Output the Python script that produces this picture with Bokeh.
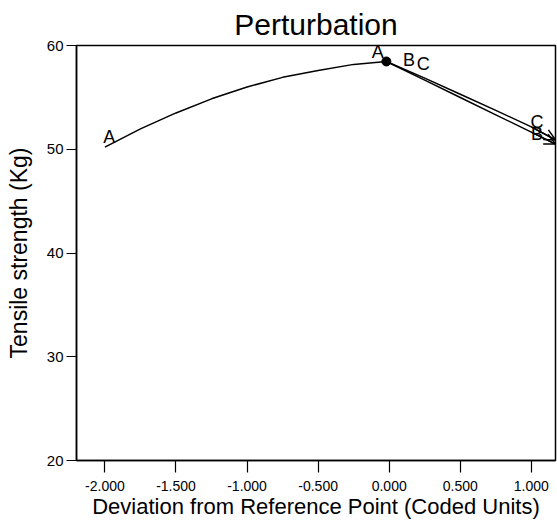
from bokeh.plotting import figure
from bokeh.models import Range1d, FixedTicker, NumeralTickFormatter, Arrow, OpenHead, ColumnDataSource
from bokeh.core.properties import value
from bokeh.embed import file_html
from bokeh.resources import INLINE

# Perturbation traces (coded deviation vs tensile strength)
A_x = [-2.0, -1.75, -1.5, -1.25, -1.0, -0.75, -0.5, -0.25, -0.02]
A_y = [50.2, 51.96, 53.5, 54.86, 56.0, 56.93, 57.6, 58.18, 58.46]
B_x = [-0.02, 0.25, 0.5, 0.75, 1.0, 1.17]
B_y = [58.46, 56.66, 54.99, 53.32, 51.65, 50.5]
C_x = [-0.02, 0.25, 0.5, 0.75, 1.0, 1.17]
C_y = [58.46, 56.85, 55.3, 53.75, 52.15, 50.9]
ref_x = [-0.02]
ref_y = [58.46]

label_text = ["A", "A", "B", "C", "C", "B"]
label_x = [-1.97, -0.08, 0.14, 0.24, 1.04, 1.04]
label_y = [51.15, 59.4, 58.6, 58.25, 52.6, 51.45]

x_ticks = [-2.0, -1.5, -1.0, -0.5, 0.0, 0.5, 1.0]
y_ticks = [20, 30, 40, 50, 60]

FONT = "Liberation Sans"

p = figure(width=557, height=521, output_backend="svg", toolbar_location=None,
           x_range=Range1d(-2.2, 1.17), y_range=Range1d(20, 60),
           min_border_left=76, min_border_right=2, min_border_top=44, min_border_bottom=61,
           title="Perturbation")
p.title.text_font = FONT
p.title.text_font_size = "30px"
p.title.text_font_style = "normal"
p.title.align = "center"
p.title.text_color = "black"

p.grid.visible = False
p.outline_line_color = "black"
p.outline_line_width = 1.5

for ax in (p.xaxis[0], p.yaxis[0]):
    ax.axis_line_color = "black"
    ax.axis_line_width = 1.5
    ax.major_tick_line_color = "black"
    ax.major_tick_line_width = 1.2
    ax.major_tick_in = 0
    ax.minor_tick_line_color = None
    ax.major_label_text_font = FONT
    ax.major_label_text_color = "black"
    ax.axis_label_text_font = FONT
    ax.axis_label_text_font_style = "normal"
    ax.axis_label_text_color = "black"

p.xaxis.ticker = FixedTicker(ticks=x_ticks)
p.xaxis.formatter = NumeralTickFormatter(format="0.000")
p.xaxis.major_tick_out = 12
p.xaxis.major_label_standoff = 8
p.xaxis.major_label_text_font_size = "14px"
p.xaxis.major_label_text_line_height = 1.0
p.xaxis.axis_label = "Deviation from Reference Point (Coded Units)"
p.xaxis.axis_label_text_font_size = "22px"
p.xaxis.axis_label_text_line_height = 1.0
p.xaxis.axis_label_standoff = 0

p.yaxis.ticker = FixedTicker(ticks=y_ticks)
p.yaxis.major_tick_out = 10
p.yaxis.major_label_standoff = 3
p.yaxis.major_label_text_font_size = "15px"
p.yaxis.axis_label = "Tensile strength (Kg)"
p.yaxis.axis_label_text_font_size = "23px"
p.yaxis.axis_label_standoff = 12

p.line(A_x, A_y, line_color="black", line_width=1.5)
p.line(B_x, B_y, line_color="black", line_width=1.5)
p.line(C_x, C_y, line_color="black", line_width=1.5)
p.scatter(ref_x, ref_y, size=9, color="black")

for xs, ys in ((B_x, B_y), (C_x, C_y)):
    p.add_layout(Arrow(end=OpenHead(size=11, line_width=1.5, line_color="black"),
                       x_start=xs[-2], y_start=ys[-2], x_end=xs[-1], y_end=ys[-1],
                       line_color="black", line_width=1.5))

src = ColumnDataSource(dict(x=label_x, y=label_y, t=label_text))
p.text("x", "y", text="t", source=src, text_font=value(FONT), text_font_size="18px",
       text_align="center", text_baseline="middle", text_color="black")

open("out.html", "w").write(file_html(p, INLINE))
